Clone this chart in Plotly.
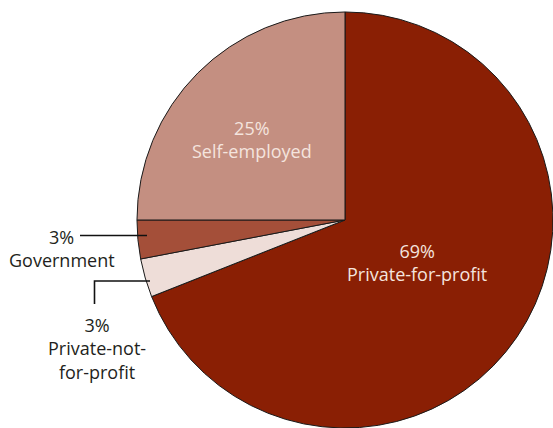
import plotly.graph_objects as go

W, H = 553, 428

labels = ["Private-for-profit", "Private-not-for-profit", "Government", "Self-employed"]
values = [69, 3, 3, 25]
colors = ["#8A1F04", "#EEDDD8", "#A44F39", "#C48F81"]


def px(x, y):
    # pixel -> paper coords
    return x / W, 1 - y / H


fig = go.Figure(go.Pie(
    labels=labels,
    values=values,
    sort=False,
    direction="clockwise",
    rotation=0,
    marker=dict(colors=colors, line=dict(color="#1a1a1a", width=1)),
    textinfo="none",
    hoverinfo="label+percent",
    domain=dict(x=[0.2477, 1.0], y=[0.0, 0.972]),
    showlegend=False,
))

inside_font = dict(family="Open Sans, Noto Sans, sans-serif", size=18, color="#F4E4DE")
outside_font = dict(family="Open Sans, Noto Sans, sans-serif", size=18, color="#231F20")

annotations = []
# labels inside the two large slices
for (x, y), i in [((252, 139), 3), ((417, 262), 0)]:
    ax, ay = px(x, y)
    annotations.append(dict(
        x=ax, y=ay, xref="paper", yref="paper",
        text=f"{values[i]}%<br>{labels[i]}",
        showarrow=False, font=inside_font, align="center",
        xanchor="center", yanchor="middle",
    ))

# Government (outside, with leader line)
ax, ay = px(76, 237)
annotations.append(dict(x=ax, y=ay, xref="paper", yref="paper", text=f"{values[2]}%",
                        showarrow=False, font=outside_font, xanchor="right", yanchor="middle"))
ax, ay = px(62, 260)
annotations.append(dict(x=ax, y=ay, xref="paper", yref="paper", text=labels[2],
                        showarrow=False, font=outside_font, xanchor="center", yanchor="middle"))

# Private-not-for-profit (outside, with leader line)
ax, ay = px(97, 348)
annotations.append(dict(x=ax, y=ay, xref="paper", yref="paper",
                        text=f"{values[1]}%<br>Private-not-<br>for-profit",
                        showarrow=False, font=outside_font, align="center",
                        xanchor="center", yanchor="middle"))

shapes = []
x0, y0 = px(80, 235.5)
x1, y1 = px(147, 235.5)
shapes.append(dict(type="line", xref="paper", yref="paper", x0=x0, y0=y0, x1=x1, y1=y1,
                   line=dict(color="#111111", width=1.6)))
p = [px(94.5, 304), px(94.5, 281), px(150, 281)]
shapes.append(dict(type="path", xref="paper", yref="paper",
                   path=f"M {p[0][0]} {p[0][1]} L {p[1][0]} {p[1][1]} L {p[2][0]} {p[2][1]}",
                   line=dict(color="#111111", width=1.6)))

fig.update_layout(
    width=W, height=H,
    margin=dict(l=0, r=0, t=0, b=0),
    paper_bgcolor="white",
    plot_bgcolor="white",
    annotations=annotations,
    shapes=shapes,
)

# drop the browser's default 8px body margin so the figure sits at (0, 0)
fig.write_html(
    "out.html",
    config={"displayModeBar": False},
    post_script="document.body.style.margin='0';",
)
